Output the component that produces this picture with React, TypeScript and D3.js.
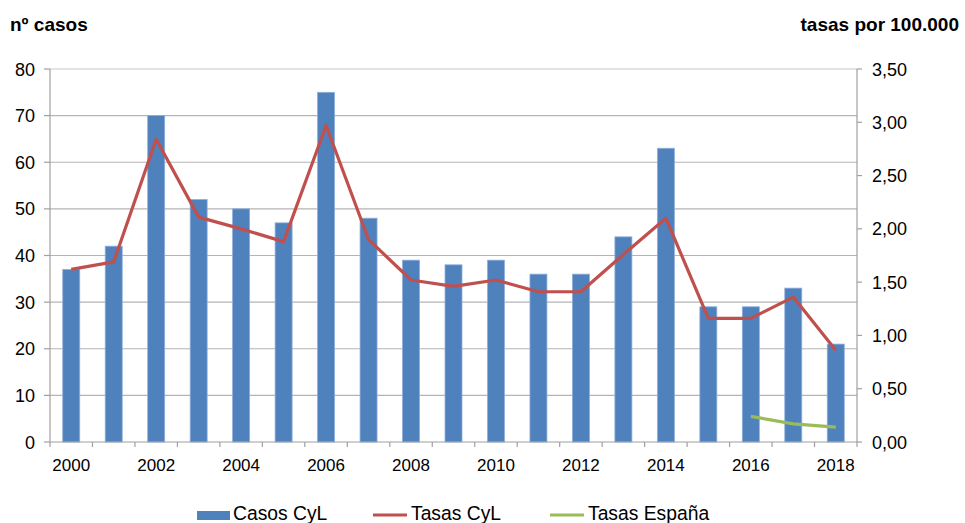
import React from "react";
import * as d3 from "d3";

const years = [2000,2001,2002,2003,2004,2005,2006,2007,2008,2009,2010,2011,2012,2013,2014,2015,2016,2017,2018];
const casosCyL = [37,42,70,52,50,47,75,48,39,38,39,36,36,44,63,29,29,33,21];
const tasasCyL = [1.62,1.69,2.84,2.11,2.0,1.88,2.97,1.9,1.52,1.46,1.52,1.41,1.41,1.76,2.1,1.16,1.16,1.36,0.86];
const tasasEspanaYears = [2016,2017,2018];
const tasasEspana = [0.24,0.17,0.14];
const leftTicks = [0,10,20,30,40,50,60,70,80];
const rightTicks = [0,0.5,1,1.5,2,2.5,3,3.5];
const xLabelYears = [2000,2002,2004,2006,2008,2010,2012,2014,2016,2018];

const W = 965, H = 523;
const X0 = 50, X1 = 857, Y0 = 442, Y1 = 69;
const FONT = "'Liberation Sans', Arial, sans-serif";

export default function App() {
  const x = d3.scaleBand<number>().domain(years).range([X0, X1]).paddingInner(0).paddingOuter(0);
  const yL = d3.scaleLinear().domain([0, 80]).range([Y0, Y1]);
  const yR = d3.scaleLinear().domain([0, 3.5]).range([Y0, Y1]);
  const bw = x.bandwidth() * 0.4;
  const cx = (yr: number) => (x(yr) as number) + x.bandwidth() / 2;
  const line = d3.line<[number, number]>().x(d => cx(d[0])).y(d => yR(d[1]));
  const redPath = line(years.map((y, i) => [y, tasasCyL[i]]));
  const greenPath = line(tasasEspanaYears.map((y, i) => [y, tasasEspana[i]]));
  const fmtR = (v: number) => v.toFixed(2).replace(".", ",");
  const boundaries = years.map(y => x(y) as number).concat([X1]);

  return (
    <svg width={W} height={H} style={{ position: "absolute", left: 0, top: 0, background: "#fff" }} fontFamily={FONT}>
      {/* gridlines */}
      {leftTicks.filter(t => t > 0).map(t => (
        <line key={"g" + t} x1={X0} x2={X1} y1={yL(t)} y2={yL(t)} stroke={t === 80 ? "#c8c8c8" : "#b4b4b4"} strokeWidth={1.2} />
      ))}
      {/* bars */}
      {years.map((yr, i) => (
        <rect key={"b" + yr} x={cx(yr) - bw / 2} y={yL(casosCyL[i])} width={bw} height={Y0 - yL(casosCyL[i])}
          fill="#4F81BD" stroke="#8eaedb" strokeWidth={0.8} />
      ))}
      {/* axes */}
      <line x1={X0} x2={X0} y1={Y1} y2={Y0} stroke="#a0a0a0" strokeWidth={1.2} />
      <line x1={X1} x2={X1} y1={Y1} y2={Y0} stroke="#a0a0a0" strokeWidth={1.2} />
      <line x1={X0} x2={X1} y1={Y0} y2={Y0} stroke="#a0a0a0" strokeWidth={1.2} />
      {leftTicks.map(t => (
        <g key={"l" + t}>
          <line x1={X0 - 6} x2={X0} y1={yL(t)} y2={yL(t)} stroke="#a0a0a0" strokeWidth={1.2} />
          <text x={X0 - 15} y={yL(t) + 6.5} textAnchor="end" fontSize={18} fill="#000">{t}</text>
        </g>
      ))}
      {rightTicks.map(t => (
        <g key={"r" + t}>
          <line x1={X1} x2={X1 + 5} y1={yR(t)} y2={yR(t)} stroke="#a0a0a0" strokeWidth={1.2} />
          <text x={X1 + 15} y={yR(t) + 6.5} textAnchor="start" fontSize={18} fill="#000">{fmtR(t)}</text>
        </g>
      ))}
      {boundaries.map((b, i) => (
        <line key={"bt" + i} x1={b} x2={b} y1={Y0} y2={Y0 + 5} stroke="#a0a0a0" strokeWidth={1.2} />
      ))}
      {xLabelYears.map(yr => (
        <text key={"xl" + yr} x={cx(yr)} y={471} textAnchor="middle" fontSize={17} fill="#000">{yr}</text>
      ))}
      {/* lines */}
      <path d={redPath || ""} fill="none" stroke="#C0504D" strokeWidth={3.2} strokeLinejoin="round" />
      <path d={greenPath || ""} fill="none" stroke="#9BBB59" strokeWidth={3.2} strokeLinejoin="round" />
      {/* titles */}
      <text x={10} y={31} fontSize={19} fontWeight="bold" fill="#000">nº casos</text>
      <text x={959} y={31} fontSize={19} fontWeight="bold" fill="#000" textAnchor="end">tasas por 100.000</text>
      {/* legend */}
      <rect x={197} y={511} width={33} height={9} fill="#4F81BD" />
      <text x={233} y={520} fontSize={19.3} fill="#000">Casos CyL</text>
      <line x1={373} x2={407} y1={515} y2={515} stroke="#C0504D" strokeWidth={3.2} />
      <text x={411} y={520} fontSize={19.3} fill="#000">Tasas CyL</text>
      <line x1={550} x2={584} y1={515} y2={515} stroke="#9BBB59" strokeWidth={3.2} />
      <text x={588} y={520} fontSize={19.3} fill="#000">Tasas España</text>
    </svg>
  );
}
